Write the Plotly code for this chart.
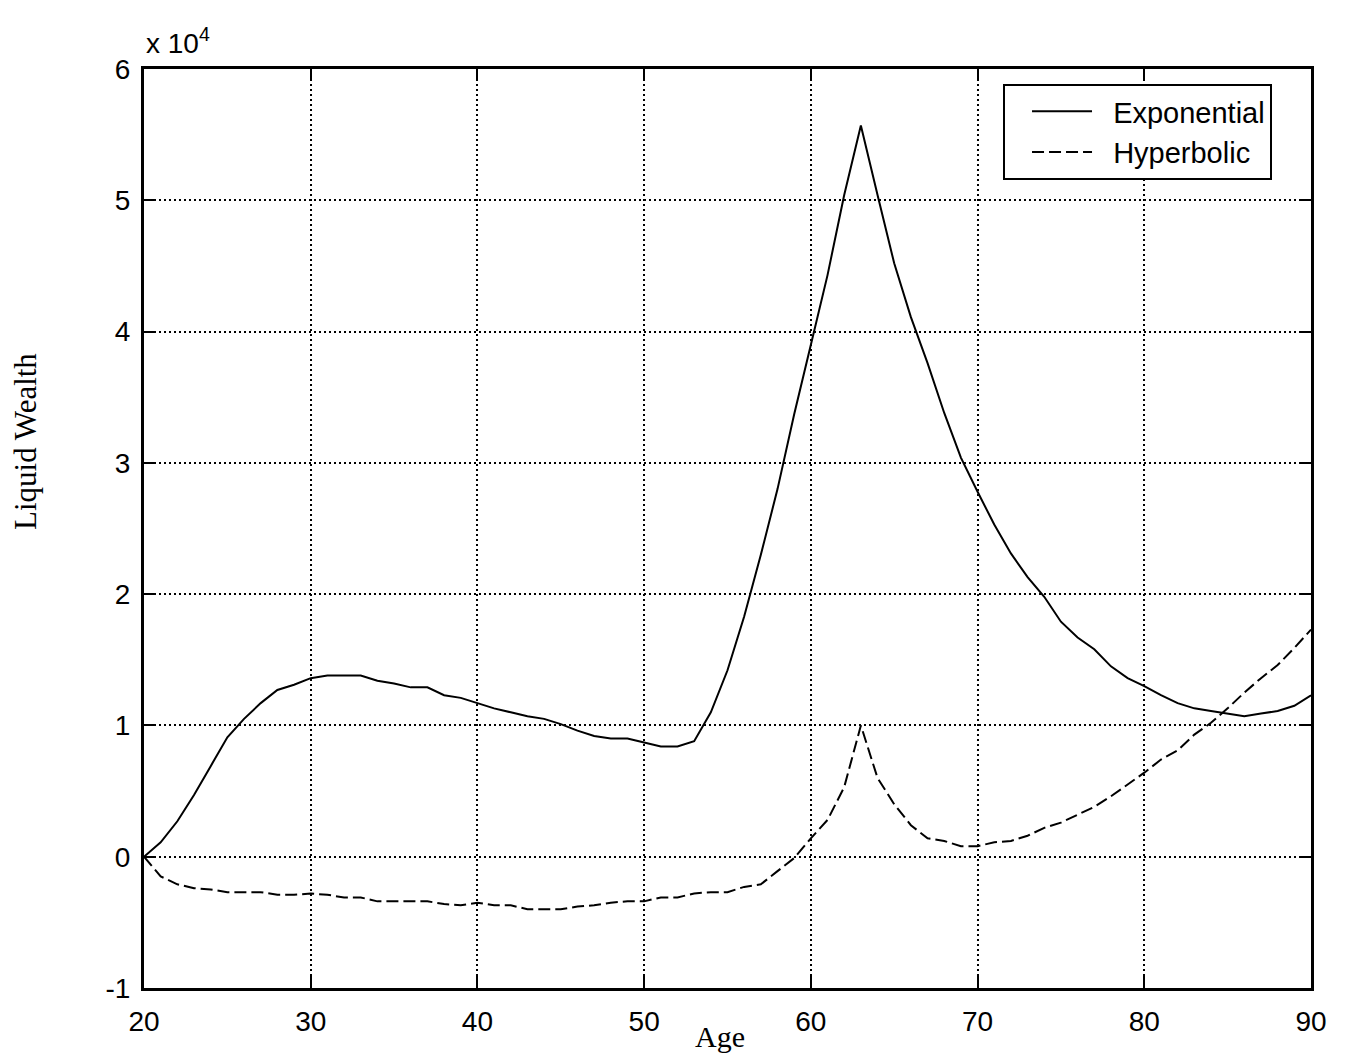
import plotly.graph_objects as go

# Age grid (years) and liquid wealth paths for the two discounting models
ages = list(range(20, 91))

exponential = [
    0, 1100, 2700, 4700, 6900, 9100, 10500, 11700, 12700, 13100,
    13600, 13800, 13800, 13800, 13400, 13200, 12900, 12900, 12300, 12100,
    11700, 11300, 11000, 10700, 10500, 10100, 9600, 9200, 9000, 9000,
    8700, 8400, 8400, 8800, 11000, 14200, 18300, 23000, 28000, 33700,
    39000, 44300, 50400, 55700, 50400, 45200, 41100, 37600, 33800, 30400,
    27800, 25300, 23100, 21300, 19800, 17900, 16700, 15800, 14500, 13600,
    13000, 12300, 11700, 11300, 11100, 10900, 10700, 10900, 11100, 11500,
    12300,
]

hyperbolic = [
    0, -1500, -2100, -2400, -2500, -2700, -2700, -2700, -2900, -2900,
    -2800, -2900, -3100, -3100, -3400, -3400, -3400, -3400, -3600, -3700,
    -3500, -3700, -3700, -4000, -4000, -4000, -3800, -3700, -3500, -3400,
    -3400, -3100, -3100, -2800, -2700, -2700, -2300, -2100, -1100, -100,
    1400, 2800, 5300, 10000, 6000, 4000, 2400, 1400, 1200, 800,
    800, 1100, 1200, 1600, 2200, 2600, 3200, 3800, 4600, 5500,
    6400, 7400, 8100, 9300, 10200, 11300, 12500, 13600, 14600, 15900,
    17300,
]

x_ticks = [20, 30, 40, 50, 60, 70, 80, 90]
y_ticks = [-10000, 0, 10000, 20000, 30000, 40000, 50000, 60000]
y_tick_labels = ["-1", "0", "1", "2", "3", "4", "5", "6"]

sans = "Liberation Sans, Arial, sans-serif"
serif = "Liberation Serif, Times New Roman, serif"
pad = "\u00a0\u00a0"

fig = go.Figure()
fig.add_trace(go.Scatter(
    x=ages, y=exponential, mode="lines", name=pad + "Exponential",
    line=dict(color="black", width=2),
))
fig.add_trace(go.Scatter(
    x=ages, y=hyperbolic, mode="lines", name=pad + "Hyperbolic",
    line=dict(color="black", width=2, dash="12px,5px"),
))

axis_common = dict(
    showline=True, linecolor="black", linewidth=3, mirror="ticks",
    ticks="inside", ticklen=12, tickwidth=2, tickcolor="black",
    showgrid=True, gridcolor="black", gridwidth=2, griddash="2px,3px",
    zeroline=False, tickfont=dict(family=sans, size=28, color="black"),
)

fig.update_xaxes(range=[20, 90], tickvals=x_ticks, ticklabelstandoff=6,
                 **axis_common)
fig.update_yaxes(range=[-10000, 60000], tickvals=y_ticks,
                 ticktext=y_tick_labels, ticklabelstandoff=5, **axis_common)

fig.update_layout(
    width=1350, height=1059,
    margin=dict(l=144, r=39, t=69, b=71),
    paper_bgcolor="white", plot_bgcolor="white",
    showlegend=True,
    legend=dict(
        x=0.9666, y=0.9837, xanchor="right", yanchor="top",
        bgcolor="white", bordercolor="black", borderwidth=2,
        font=dict(family=sans, size=29, color="black"),
        itemwidth=60, tracegroupgap=0, indentation=22,
    ),
    annotations=[
        dict(text="x 10<sup>4</sup>", xref="paper", yref="paper",
             x=0, y=1, xanchor="left", yanchor="bottom", yshift=8,
             showarrow=False, font=dict(family=sans, size=28, color="black")),
        dict(text="Age", xref="paper", yref="paper",
             x=(720 - 144) / 1167, y=0, xanchor="center", yanchor="top",
             yshift=-30, showarrow=False,
             font=dict(family=serif, size=30, color="black")),
        dict(text="Liquid Wealth", xref="paper", yref="paper",
             x=0, y=(988 - 442) / 919, xanchor="center", yanchor="middle",
             xshift=-118, textangle=-90, showarrow=False,
             font=dict(family=serif, size=31, color="black")),
    ],
)

fig.write_html("out.html")
